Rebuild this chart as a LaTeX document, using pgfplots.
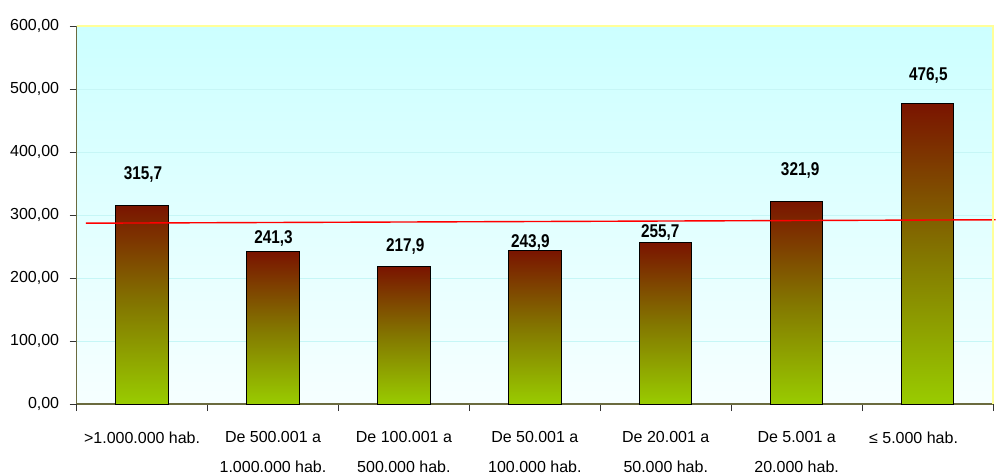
\documentclass[border=0pt]{standalone}
\usepackage{fontspec}
\setmainfont{Liberation Sans}
\newfontfamily\labelfont{Liberation Sans}[FakeStretch=0.83]
\usepackage{pgfplots}
\usepackage{pgfplotstable}
\pgfplotsset{compat=1.18}
\definecolor{bgtop}{HTML}{CCFFFF}
\definecolor{bgbot}{HTML}{F6FFFF}
\definecolor{bartop}{HTML}{7A1400}
\definecolor{barmid}{HTML}{837600}
\definecolor{barbot}{HTML}{99CC00}
\definecolor{axiscol}{HTML}{6B6B3F}
\definecolor{bordercol}{HTML}{FFFF99}
\definecolor{gridcol}{HTML}{C6F6F6}

\pgfplotstableread{
x y label
0.007 364 315,7
1.004 262 241,3
2.010 250 217,9
2.966 256 243,9
3.958 272 255,7
5.027 370 321,9
6.006 521.5 476,5
}\labels

\begin{document}
\begin{tikzpicture}
\begin{axis}[
  scale only axis, width=917pt, height=378.3pt,
  xmin=-0.5, xmax=6.5, ymin=0, ymax=600,
  clip=false,
  axis lines=left, axis line style={-},
  x axis line style={draw=axiscol, line width=1.2pt},
  y axis line style={draw=axiscol, line width=1.2pt},
  axis background/.style={top color=bgtop, bottom color=bgbot},
  ytick={0,100,...,600},
  xtick={0,...,6},
  xticklabels={{>1.000.000 hab.},{De 500.001 a\\1.000.000 hab.},{De 100.001 a\\500.000 hab.},{De 50.001 a\\100.000 hab.},{De 20.001 a\\50.000 hab.},{De 5.001 a\\20.000 hab.},{≤ 5.000 hab.\hspace*{28pt}}},
  minor xtick={-0.5,0.5,...,6.5},
  tick align=outside,
  major tick length=7pt,
  minor tick length=7pt,
  xtick style={draw=none},
  minor x tick style={draw=black!80, line width=0.9pt},
  ytick style={draw=black!80, line width=0.9pt},
  ymajorgrids,
  grid style={draw=gridcol, line width=0.8pt},
  tick label style={font=\fontsize{16}{19}\selectfont},
  xticklabel style={align=center, font=\fontsize{16}{29.5}\selectfont, yshift=-17pt},
  yticklabel style={xshift=-7pt, /pgf/number format/.cd, fixed, fixed zerofill, precision=2, use comma, 1000 sep={}, assume math mode=true},
  barstyle/.style={ybar, bar width=0.4, draw=black, line width=1pt,
    top color=bartop, bottom color=barbot, middle color=barmid},
]
\addplot[barstyle] coordinates {(0,315.7)};
\addplot[barstyle] coordinates {(1,241.3)};
\addplot[barstyle] coordinates {(2,217.9)};
\addplot[barstyle] coordinates {(3,243.9)};
\addplot[barstyle] coordinates {(4,255.7)};
\addplot[barstyle] coordinates {(5,321.9)};
\addplot[barstyle] coordinates {(6,476.5)};
\addplot[red, line width=1.4pt, no marks] coordinates {(-0.43,287) (6.52,292.4)};
\addplot[only marks, mark=none, point meta=explicit symbolic,
  nodes near coords,
  nodes near coords style={anchor=center, font=\labelfont\bfseries\fontsize{18.5}{20}\selectfont, text=black}]
  table[x=x,y=y,meta=label] {\labels};
\draw[bordercol, line width=2pt] (rel axis cs:0,1) -- (rel axis cs:1,1) -- (rel axis cs:1,0);
\end{axis}
\pgfresetboundingbox
\path ([xshift=-76.7pt,yshift=-71.7pt]current axis.south west) rectangle ([xshift=3pt,yshift=26pt]current axis.north east);
\end{tikzpicture}
\end{document}
